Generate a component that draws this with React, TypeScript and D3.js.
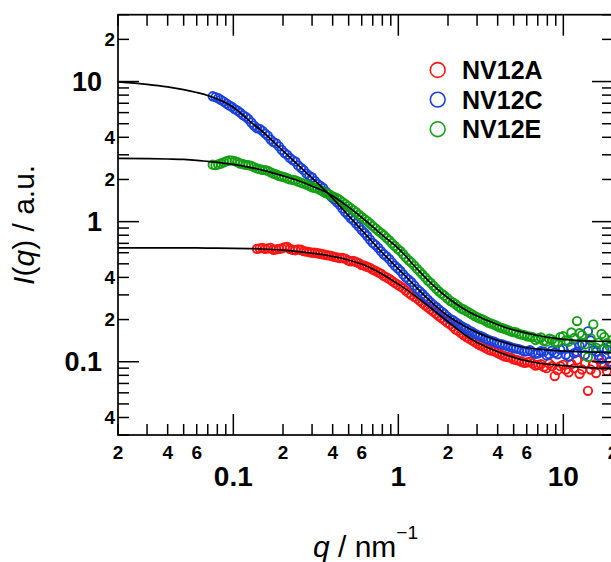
import React, { useEffect, useRef } from 'react'
import * as d3 from 'd3'

// measured q values (nm^-1), shared by the three samples: two interleaved sets
const qData = [
  0.075, 0.081, 0.0875, 0.0945, 0.102, 0.11, 0.119, 0.1285, 0.139, 0.15,
  0.162, 0.175, 0.189, 0.204, 0.22, 0.238, 0.257, 0.278, 0.3, 0.324,
  0.35, 0.378, 0.408, 0.441, 0.476, 0.514, 0.555, 0.6, 0.648, 0.7,
  0.756, 0.816, 0.882, 0.952, 1.03, 1.11, 1.2, 1.3, 1.4, 1.51,
  1.63, 1.76, 1.9, 2.06, 2.22, 2.4, 2.59, 2.8, 3.02, 3.26,
  3.52, 3.81, 4.11, 4.44, 4.8, 5.18, 5.59, 6.04, 6.52, 7.04,
  7.61, 8.22, 8.87, 9.58, 10.35, 11.2, 12.1, 13.0, 14.1, 15.2,
  16.4, 17.7, 19.1,
]
const qDataB = [
  0.078, 0.084, 0.091, 0.098, 0.106, 0.1145, 0.1235, 0.1335, 0.1445, 0.156,
  0.1685, 0.182, 0.1965, 0.212, 0.229, 0.247, 0.267, 0.289, 0.312, 0.337,
  0.364, 0.393, 0.424, 0.458, 0.495, 0.534, 0.577, 0.624, 0.673, 0.727,
  0.785, 0.848, 0.916, 0.99, 1.07, 1.155, 1.25, 1.35, 1.455, 1.57,
  1.695, 1.83, 1.98, 2.14, 2.31, 2.49, 2.69, 2.91, 3.14, 3.39,
  3.66, 3.96, 4.27, 4.62, 4.99, 5.38, 5.81, 6.28, 6.78, 7.32,
  7.91, 8.54, 9.22, 9.96, 10.77, 11.64, 12.55, 13.54, 14.64, 15.79,
  17.04, 18.39, 19.8,
]

const nv12a = [
  null, null, null, null, null, null, null, null, 0.64, 0.65,
  0.645, 0.63, 0.64, 0.655, 0.64, 0.625, 0.63, 0.61, 0.6, 0.595,
  0.585, 0.575, 0.56, 0.55, 0.545, 0.52, 0.515, 0.49, 0.475, 0.455,
  0.435, 0.41, 0.39, 0.365, 0.345, 0.322, 0.3, 0.282, 0.262, 0.244,
  0.228, 0.212, 0.198, 0.185, 0.17, 0.16, 0.15, 0.142, 0.134, 0.128,
  0.122, 0.119, 0.114, 0.109, 0.107, 0.103, 0.1, 0.099, 0.097, 0.095,
  0.092, 0.097, 0.079, 0.093, 0.088, 0.096, 0.103, 0.088, 0.062, 0.095,
  0.104, 0.093, 0.1,
]
const nv12aB = [
  null, null, null, null, null, null, null, null, 0.645, 0.64,
  0.65, 0.635, 0.645, 0.66, 0.63, 0.635, 0.615, 0.605, 0.6, 0.59,
  0.578, 0.57, 0.555, 0.55, 0.53, 0.525, 0.505, 0.485, 0.468, 0.445,
  0.425, 0.4, 0.378, 0.355, 0.335, 0.31, 0.29, 0.272, 0.253, 0.236,
  0.22, 0.205, 0.19, 0.178, 0.166, 0.155, 0.146, 0.138, 0.131, 0.125,
  0.12, 0.116, 0.111, 0.108, 0.104, 0.102, 0.098, 0.1, 0.094, 0.096,
  0.09, 0.093, 0.087, 0.095, 0.084, 0.09, 0.082, 0.097, 0.088, 0.083,
  0.098, 0.086, 0.094,
]

const nv12c = [
  7.85, 7.6, 7.2, 6.75, 6.35, 6.0, 5.6, 5.1, 4.65, 4.45,
  4.1, 3.7, 3.45, 3.1, 2.85, 2.68, 2.42, 2.2, 2.07, 1.86,
  1.74, 1.57, 1.44, 1.32, 1.17, 1.06, 0.97, 0.87, 0.79, 0.705,
  0.65, 0.585, 0.54, 0.485, 0.445, 0.4, 0.37, 0.33, 0.305, 0.278,
  0.255, 0.236, 0.22, 0.202, 0.192, 0.18, 0.172, 0.163, 0.155, 0.15,
  0.143, 0.139, 0.134, 0.131, 0.127, 0.124, 0.121, 0.119, 0.117, 0.115,
  0.118, 0.113, 0.116, 0.122, 0.112, 0.127, 0.118, 0.135, 0.165, 0.121,
  0.11, 0.125, 0.1,
]
const nv12cB = [
  7.75, 7.4, 6.95, 6.6, 6.2, 5.75, 5.4, 4.85, 4.6, 4.25,
  3.85, 3.62, 3.25, 3.0, 2.75, 2.52, 2.33, 2.12, 1.95, 1.8,
  1.64, 1.5, 1.38, 1.24, 1.12, 1.02, 0.92, 0.83, 0.745, 0.68,
  0.615, 0.565, 0.51, 0.465, 0.42, 0.385, 0.35, 0.318, 0.29, 0.265,
  0.246, 0.228, 0.21, 0.198, 0.186, 0.176, 0.167, 0.159, 0.153, 0.146,
  0.141, 0.136, 0.133, 0.129, 0.125, 0.123, 0.118, 0.121, 0.114, 0.119,
  0.111, 0.12, 0.113, 0.124, 0.109, 0.115, 0.13, 0.112, 0.142, 0.118,
  0.105, 0.122, 0.113,
]

const nv12e = [
  2.55, 2.56, 2.65, 2.74, 2.7, 2.6, 2.54, 2.5, 2.4, 2.34,
  2.3, 2.2, 2.12, 2.08, 2.0, 1.97, 1.9, 1.84, 1.76, 1.72,
  1.64, 1.57, 1.5, 1.43, 1.34, 1.25, 1.17, 1.08, 1.01, 0.93,
  0.86, 0.8, 0.735, 0.67, 0.615, 0.555, 0.51, 0.46, 0.42, 0.38,
  0.348, 0.318, 0.296, 0.272, 0.258, 0.24, 0.23, 0.218, 0.207, 0.2,
  0.19, 0.184, 0.176, 0.171, 0.165, 0.162, 0.156, 0.152, 0.15, 0.147,
  0.141, 0.146, 0.138, 0.15, 0.142, 0.162, 0.195, 0.155, 0.108, 0.185,
  0.137, 0.15, 0.128,
]
const nv12eB = [
  2.53, 2.6, 2.7, 2.73, 2.66, 2.57, 2.53, 2.45, 2.37, 2.33,
  2.25, 2.17, 2.1, 2.04, 1.99, 1.93, 1.87, 1.8, 1.74, 1.68,
  1.6, 1.53, 1.47, 1.38, 1.29, 1.21, 1.12, 1.04, 0.97, 0.895,
  0.83, 0.765, 0.7, 0.64, 0.585, 0.53, 0.485, 0.44, 0.4, 0.365,
  0.332, 0.306, 0.284, 0.265, 0.248, 0.236, 0.224, 0.212, 0.203, 0.195,
  0.187, 0.18, 0.174, 0.168, 0.163, 0.158, 0.155, 0.151, 0.143, 0.149,
  0.139, 0.144, 0.137, 0.152, 0.139, 0.148, 0.16, 0.133, 0.147, 0.126,
  0.158, 0.136, 0.143,
]

// fitted model curves
const qFit = [
  0.02, 0.03, 0.04, 0.05, 0.06, 0.07, 0.08, 0.1, 0.126, 0.15,
  0.2, 0.25, 0.3, 0.37, 0.5, 0.65, 0.8, 1, 1.3, 1.6,
  2, 2.5, 3, 3.5, 4.5, 5.5, 7, 9, 12, 16, 20,
]
const fitA = [
  0.65, 0.65, 0.65, 0.65, 0.649, 0.648, 0.647, 0.645, 0.642, 0.638,
  0.626, 0.611, 0.595, 0.574, 0.532, 0.479, 0.422, 0.358, 0.288, 0.238,
  0.193, 0.157, 0.137, 0.126, 0.112, 0.104, 0.098, 0.095, 0.092, 0.09, 0.089,
]
const fitC = [
  9.95, 9.55, 9.15, 8.75, 8.35, 7.95, 7.5, 6.55, 5.2, 4.4,
  3.2, 2.5, 2.05, 1.62, 1.1, 0.785, 0.6, 0.46, 0.335, 0.264,
  0.212, 0.181, 0.162, 0.15, 0.136, 0.128, 0.123, 0.12, 0.118, 0.117, 0.116,
]
const fitE = [
  2.83, 2.82, 2.8, 2.78, 2.74, 2.69, 2.65, 2.56, 2.44, 2.33,
  2.12, 1.95, 1.79, 1.61, 1.27, 0.99, 0.8, 0.645, 0.46, 0.358,
  0.285, 0.238, 0.212, 0.196, 0.175, 0.164, 0.154, 0.147, 0.142, 0.14, 0.139,
]

const seriesNames = ['NV12A', 'NV12C', 'NV12E']
const seriesColors = ['#ff1414', '#1c40dc', '#14a014']

const FONT = '"Liberation Sans", Arial, Helvetica, sans-serif'

export default function App() {
  const ref = useRef<SVGSVGElement>(null)

  useEffect(() => {
    const svg = d3.select(ref.current)
    svg.selectAll('*').remove()

    const left = 118
    const right = 613
    const top = 14.7
    const bottom = 435

    const x = d3.scaleLog().domain([0.02, 20]).range([left, right])
    const y = d3.scaleLog().domain([0.03, 30]).range([bottom, top])

    const isMajor = (v: number) => Math.abs(Math.log10(v) - Math.round(Math.log10(v))) < 1e-6
    const lead = (v: number) => Math.round(v / Math.pow(10, Math.floor(Math.log10(v) + 1e-9)))

    const g = svg.append('g')

    // data markers (drawn first, fits go on top)
    const setsA = [nv12a, nv12c, nv12e]
    const setsB = [nv12aB, nv12cB, nv12eB]
    ;[0, 1, 2].forEach((si) => {
      const pts: [number, number][] = []
      qData.forEach((q, i) => {
        if (setsA[si][i] != null) pts.push([q, setsA[si][i] as number])
        if (setsB[si][i] != null) pts.push([qDataB[i], setsB[si][i] as number])
      })
      g.append('g')
        .selectAll('circle')
        .data(pts)
        .enter().append('circle')
        .attr('cx', d => x(d[0]))
        .attr('cy', d => y(d[1]))
        .attr('r', 4.2)
        .attr('fill', 'none')
        .attr('stroke', seriesColors[si])
        .attr('stroke-width', 1.9)
    })

    // fit curves
    const line = d3.line<number>()
      .x((d, i) => x(qFit[i]))
      .y(d => y(d))
      .curve(d3.curveMonotoneX)
    ;[fitA, fitC, fitE].forEach((f) => {
      g.append('path')
        .attr('d', line(f))
        .attr('fill', 'none')
        .attr('stroke', '#000')
        .attr('stroke-width', 1.7)
    })

    // frame
    g.append('rect')
      .attr('x', left)
      .attr('y', top)
      .attr('width', right - left)
      .attr('height', bottom - top)
      .attr('fill', 'none')
      .attr('stroke', '#000')
      .attr('stroke-width', 1.7)

    const minorLen = 11
    const majorLen = 21

    // x ticks, bottom and top, pointing inward
    x.ticks().forEach((v) => {
      const len = isMajor(v) ? majorLen : minorLen
      const px = x(v)
      g.append('line').attr('x1', px).attr('x2', px).attr('y1', bottom).attr('y2', bottom - len)
        .attr('stroke', '#000').attr('stroke-width', 1.5)
      g.append('line').attr('x1', px).attr('x2', px).attr('y1', top).attr('y2', top + len)
        .attr('stroke', '#000').attr('stroke-width', 1.5)
      if (isMajor(v)) {
        g.append('text')
          .attr('x', px)
          .attr('y', 485.5)
          .attr('text-anchor', 'middle')
          .attr('font-family', FONT)
          .attr('font-weight', 'bold')
          .attr('font-size', 28)
          .text(v >= 1 ? d3.format('d')(v) : String(v))
      } else if ([2, 4, 6].includes(lead(v))) {
        g.append('text')
          .attr('x', px)
          .attr('y', 458.5)
          .attr('text-anchor', 'middle')
          .attr('font-family', FONT)
          .attr('font-weight', 'bold')
          .attr('font-size', 19)
          .text(lead(v))
      }
    })

    // y ticks, left and right
    y.ticks().forEach((v) => {
      const len = isMajor(v) ? majorLen : minorLen
      const py = y(v)
      g.append('line').attr('x1', left).attr('x2', left + len).attr('y1', py).attr('y2', py)
        .attr('stroke', '#000').attr('stroke-width', 1.5)
      g.append('line').attr('x1', right).attr('x2', right - len).attr('y1', py).attr('y2', py)
        .attr('stroke', '#000').attr('stroke-width', 1.5)
      if (isMajor(v)) {
        g.append('text')
          .attr('x', 102)
          .attr('y', py)
          .attr('dy', '0.36em')
          .attr('text-anchor', 'end')
          .attr('font-family', FONT)
          .attr('font-weight', 'bold')
          .attr('font-size', 27)
          .text(v >= 1 ? d3.format('d')(v) : String(v))
      } else if ([2, 4].includes(lead(v))) {
        g.append('text')
          .attr('x', 115)
          .attr('y', py)
          .attr('dy', '0.36em')
          .attr('text-anchor', 'end')
          .attr('font-family', FONT)
          .attr('font-weight', 'bold')
          .attr('font-size', 19)
          .text(lead(v))
      }
    })

    // axis titles
    const xTitle = g.append('text')
      .attr('x', (left + right) / 2)
      .attr('y', 556.5)
      .attr('text-anchor', 'middle')
      .attr('font-family', FONT)
      .attr('font-size', 30)
    xTitle.append('tspan').attr('font-style', 'italic').text('q')
    xTitle.append('tspan').text(' / nm')
    xTitle.append('tspan').attr('font-size', 19).attr('dy', -18).text('\u22121')

    const yTitle = g.append('text')
      .attr('transform', `translate(34,${(top + bottom) / 2}) rotate(-90)`)
      .attr('text-anchor', 'middle')
      .attr('font-family', FONT)
      .attr('font-size', 30)
    yTitle.append('tspan').attr('font-style', 'italic').text('I')
    yTitle.append('tspan').text('(')
    yTitle.append('tspan').attr('font-style', 'italic').text('q')
    yTitle.append('tspan').text(') / a.u.')

    // legend
    const legend = g.append('g')
    seriesNames.forEach((name, i) => {
      const ly = 70 + i * 29.6
      legend.append('circle')
        .attr('cx', 437.7)
        .attr('cy', ly)
        .attr('r', 7.4)
        .attr('fill', 'none')
        .attr('stroke', seriesColors[i])
        .attr('stroke-width', 1.6)
      legend.append('text')
        .attr('x', 462)
        .attr('y', ly)
        .attr('dy', '0.36em')
        .attr('font-family', FONT)
        .attr('font-weight', 'bold')
        .attr('font-size', 25)
        .text(name)
    })
  }, [])

  return (
    <svg
      ref={ref}
      width={611}
      height={562}
      style={{ position: 'absolute', left: 0, top: 0, background: '#fff' }}
    />
  )
}
